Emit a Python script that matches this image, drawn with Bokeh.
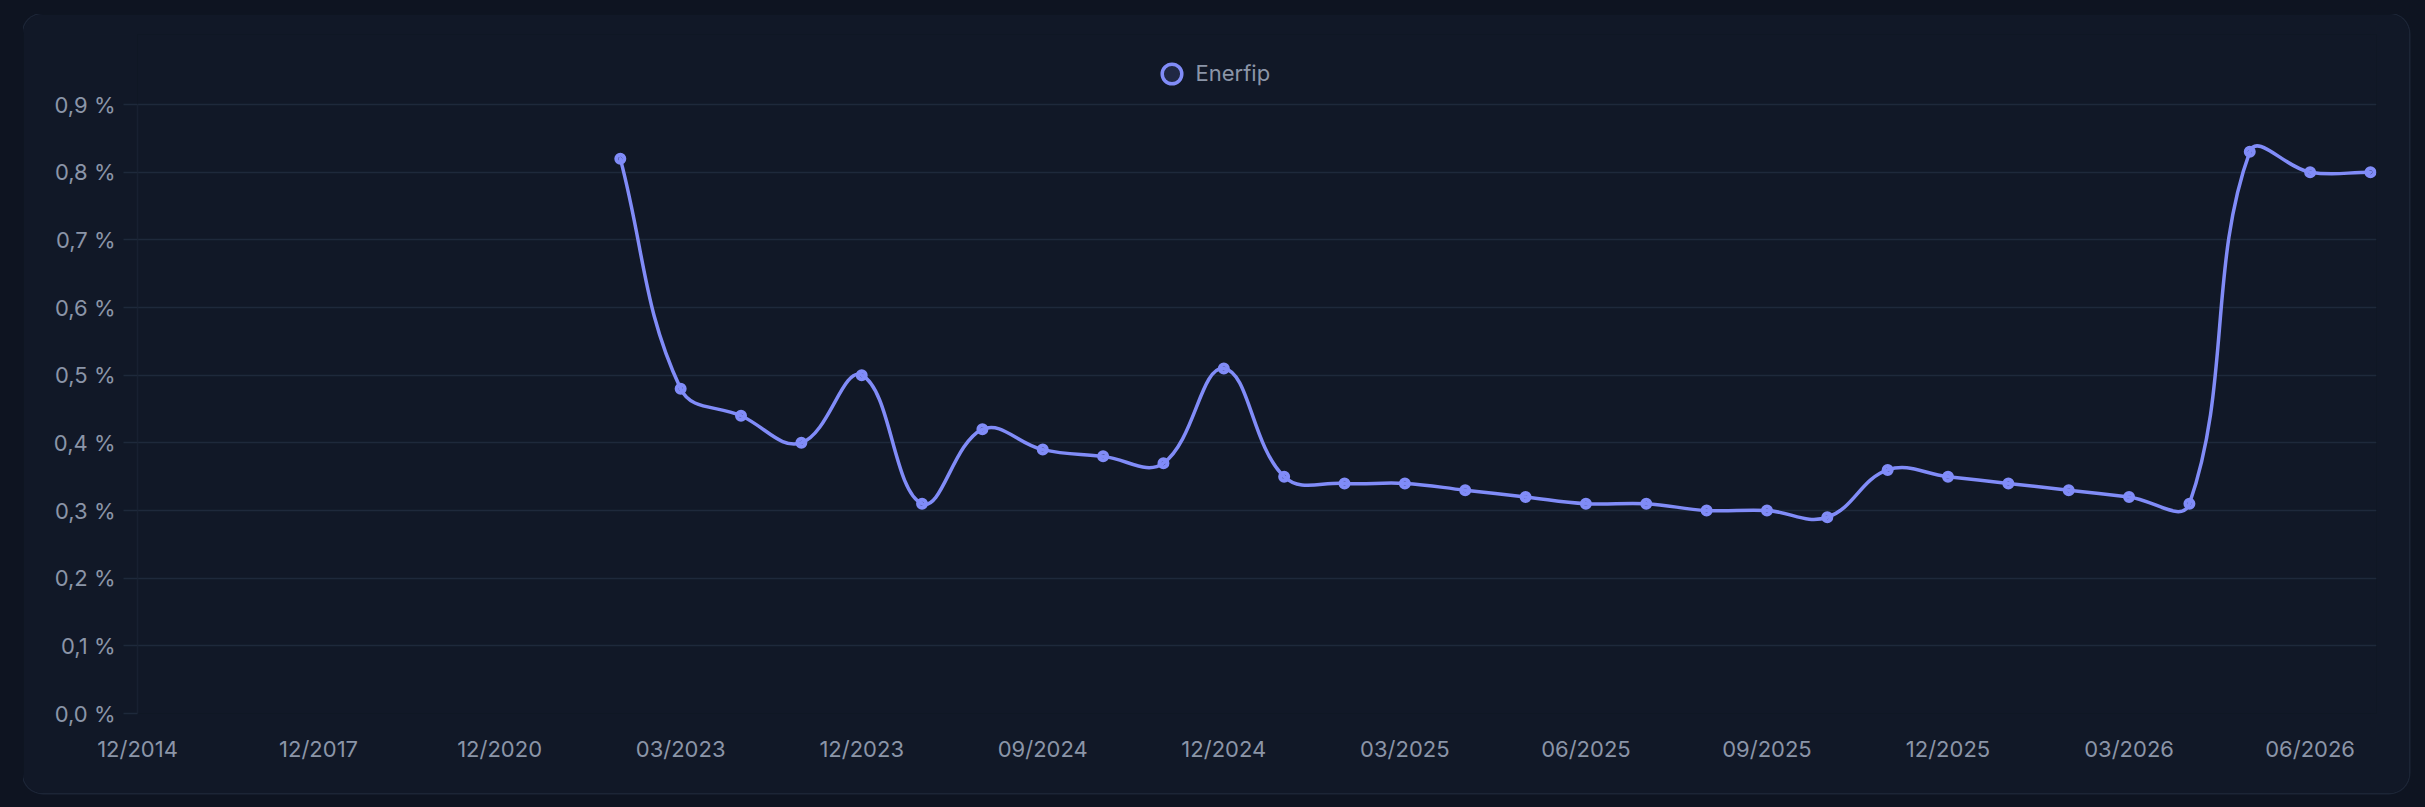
import math
from bokeh.plotting import figure
from bokeh.models import (ColumnDataSource, Range1d, FixedTicker, CustomJSTickFormatter,
                          Legend, LegendItem, GlobalInlineStyleSheet)
from bokeh.embed import file_html
from bokeh.resources import INLINE

# ---------------- data ----------------
periods = ["12/2014", "12/2015", "12/2016", "12/2017", "12/2018", "12/2019", "12/2020",
           "12/2021", "12/2022", "03/2023", "06/2023", "09/2023", "12/2023", "03/2024",
           "06/2024", "09/2024", "10/2024", "11/2024", "12/2024", "01/2025", "02/2025",
           "03/2025", "04/2025", "05/2025", "06/2025", "07/2025", "08/2025", "09/2025",
           "10/2025", "11/2025", "12/2025", "01/2026", "02/2026", "03/2026", "04/2026",
           "05/2026", "06/2026", "07/2026"]
enerfip = [None, None, None, None, None, None, None, None,
           0.82, 0.48, 0.44, 0.40, 0.50, 0.31, 0.42, 0.39, 0.38, 0.37, 0.51,
           0.35, 0.34, 0.34, 0.33, 0.32, 0.31, 0.31, 0.30, 0.30, 0.29,
           0.36, 0.35, 0.34, 0.33, 0.32, 0.31, 0.83, 0.80, 0.80]
x_tick_positions = [0, 3, 6, 9, 12, 15, 18, 21, 24, 27, 30, 33, 36]
y_ticks = [0.0, 0.1, 0.2, 0.3, 0.4, 0.5, 0.6, 0.7, 0.8, 0.9]
series_name = "Enerfip"

# ---------------- style ----------------
PAGE_BG = "#0e1421"
CARD_BG = "#111827"
GRID = "#1e293b"
TEXT = "#8b95a8"
LINE = "#818cf8"
FONT = "Inter"
W, H = 2386, 779
LEFT, RIGHT, TOP, BOTTOM = 114, 33, 20, 80
AXIS_TOP = 90          # pixel row of the top gridline inside the card
X_END = 37.1
Y_MAX = y_ticks[-1]
Y_END = Y_MAX * (H - TOP - BOTTOM) / (H - AXIS_TOP - BOTTOM)

# ---------------- smoothing (Chart.js-like tension spline) ----------------
xs = [i for i, v in enumerate(enerfip) if v is not None]
ys = [enerfip[i] for i in xs]
frame_w = W - LEFT - RIGHT
frame_h = H - TOP - BOTTOM
SX = frame_w / X_END
SY = frame_h / Y_END
px = [x * SX for x in xs]
py = [y * SY for y in ys]
n = len(px)
T = 0.4


def cap(xp, yp):
    return (min(max(xp / SX, 0.0), float(len(periods) - 1)), min(max(yp / SY, 0.0), Y_MAX))


cp_prev, cp_next = [], []
for i in range(n):
    a = max(i - 1, 0)
    b = min(i + 1, n - 1)
    d01 = math.hypot(px[i] - px[a], py[i] - py[a])
    d12 = math.hypot(px[b] - px[i], py[b] - py[i])
    tot = d01 + d12
    s01 = d01 / tot if tot else 0.0
    s12 = d12 / tot if tot else 0.0
    fa, fb = T * s01, T * s12
    dx, dy = px[b] - px[a], py[b] - py[a]
    cp_prev.append(cap(px[i] - fa * dx, py[i] - fa * dy))
    cp_next.append(cap(px[i] + fb * dx, py[i] + fb * dy))

bez = ColumnDataSource(dict(
    x0=xs[:-1], y0=ys[:-1], x1=xs[1:], y1=ys[1:],
    cx0=[c[0] for c in cp_next[:-1]], cy0=[c[1] for c in cp_next[:-1]],
    cx1=[c[0] for c in cp_prev[1:]], cy1=[c[1] for c in cp_prev[1:]],
))
pts = ColumnDataSource(dict(x=xs, y=ys))

# ---------------- figure ----------------
p = figure(width=W, height=H, output_backend="svg", toolbar_location=None,
           x_range=Range1d(0, X_END), y_range=Range1d(0, Y_END),
           min_border_left=LEFT, min_border_right=RIGHT,
           min_border_top=TOP, min_border_bottom=BOTTOM)
p.background_fill_color = CARD_BG
p.border_fill_color = CARD_BG
p.outline_line_color = None
p.styles = {"border-radius": "20px", "overflow": "hidden",
            "box-shadow": "0 0 0 1.5px #1c2536"}
p.stylesheets = [GlobalInlineStyleSheet(
    css=f"html, body {{ background: {PAGE_BG}; }} body {{ margin: 14px 0 0 23px; }}")]

p.xgrid.grid_line_color = None
p.ygrid.grid_line_color = GRID
p.ygrid.grid_line_width = 1.5

# x axis
p.xaxis.ticker = FixedTicker(ticks=x_tick_positions)
p.xaxis.major_label_overrides = {i: periods[i] for i in x_tick_positions}
p.xaxis.axis_line_color = None
p.xaxis.major_tick_line_color = None
p.xaxis.minor_tick_line_color = None
p.xaxis.major_tick_out = 0
p.xaxis.major_tick_in = 0
p.xaxis.major_label_standoff = 22
p.xaxis.major_label_text_font = FONT
p.xaxis.major_label_text_font_size = "22px"
p.xaxis.major_label_text_color = TEXT

# y axis
p.yaxis.ticker = FixedTicker(ticks=y_ticks)
p.yaxis.bounds = (y_ticks[0], y_ticks[-1])
p.yaxis.formatter = CustomJSTickFormatter(code="return tick.toFixed(1).replace('.', ',') + ' %';")
p.yaxis.axis_line_color = "#182031"
p.yaxis.axis_line_width = 1.5
p.yaxis.major_tick_line_color = GRID
p.yaxis.major_tick_line_width = 1.5
p.yaxis.major_tick_out = 14
p.yaxis.major_tick_in = 0
p.yaxis.minor_tick_line_color = None
p.yaxis.major_label_standoff = 8
p.yaxis.major_label_text_font = FONT
p.yaxis.major_label_text_font_size = "22px"
p.yaxis.major_label_text_color = TEXT

# series
p.bezier(x0="x0", y0="y0", x1="x1", y1="y1", cx0="cx0", cy0="cy0", cx1="cx1", cy1="cy1",
         source=bez, line_color=LINE, line_width=3.5, line_cap="round")
p.scatter("x", "y", source=pts, size=8, line_width=4, line_color=LINE,
          fill_color=LINE, fill_alpha=0.15)

# legend (dedicated marker renderer whose only point is not drawable)
leg_src = ColumnDataSource(dict(x=[float("nan")], y=[float("nan")]))
leg_r = p.scatter("x", "y", source=leg_src, size=19.5, line_width=3.5, line_color=LINE,
                  fill_color=LINE, fill_alpha=0.14)
frame_bottom = H - BOTTOM
legend_box = 49
legend_top = 59 - legend_box / 2
legend = Legend(items=[LegendItem(label=series_name, renderers=[leg_r])],
                location=(1148 - legend_box / 2 - LEFT, frame_bottom - legend_top - legend_box),
                orientation="horizontal",
                glyph_width=legend_box, glyph_height=legend_box, label_standoff=-3,
                padding=0, margin=0, spacing=0,
                border_line_color=None, background_fill_alpha=0,
                label_text_font=FONT, label_text_font_size="22px",
                label_text_color=TEXT)
p.add_layout(legend, "center")

open("out.html", "w").write(file_html(p, INLINE))
